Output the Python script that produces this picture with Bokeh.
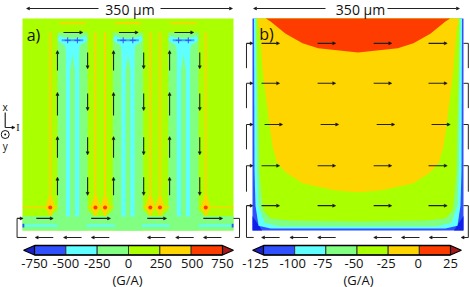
from bokeh.plotting import figure
from bokeh.models import Range1d, Arrow, NormalHead, ColumnDataSource
from bokeh.core.properties import value
from bokeh.embed import file_html
from bokeh.resources import INLINE

# ---------- data ----------
COLORS = ["#3050ff", "#60ffff", "#80ff80", "#aaff00", "#ffd500", "#ff3c00"]
TIP_LOW, TIP_HIGH = "#1820c0", "#a81818"
levels_a = [-750, -500, -250, 0, 250, 500, 750]
levels_b = [-125, -100, -75, -50, -25, 0, 25]
labels_a = ["-750", "-500", "-250", "0", "250", "500", "750"]
labels_b = ["-125", "-100", "-75", "-50", "-25", "0", "25"]
unit_label = "(G/A)"
width_label = "350 µm"

# panel a, micrometres
conductor_centres = [83, 175, 267]
conductor_half = 25
conductor_top = 327
return_strip_top = 24
hot_x = [46, 121, 137, 212, 228, 304]
hot_y = 38
star_dx = [-22, -8, 8, 22, 25, 12, 11, 11, 4, 4, 0, -4, -4, -11, -11, -12, -25]
star_y = [321, 317, 317, 321, 314, 305, 292, 23, 23, 264, 291, 264, 23, 23, 292, 305, 314]
strip_segments = [(0, 58), (106, 153), (198, 244), (292, 350)]

# panel b, half contours, micrometres from the left edge
cyan_x = [2.5, 3.3, 5, 10, 30, 175]
cyan_y = [350, 99, 41, 8, 3.3, 3.3]
green_x = [5, 7.5, 10, 20, 46, 175]
green_y = [350, 99, 41, 13, 6.6, 6.6]
lime_x = [6.6, 11.6, 15, 18, 30, 63, 175]
lime_y = [350, 99, 58, 33, 20, 16.5, 15]
orange_x = [8, 11.6, 18, 30, 33, 41, 55, 83, 138, 175]
orange_y = [350, 330, 253, 160, 140, 112, 96, 78, 66, 63]
red_x = [22, 30, 55, 83, 109, 175]
red_y = [350, 345, 325, 309, 301, 294]

# current arrows, micrometres
a_up_x = [58, 151, 244]
a_down_x = [108, 201, 294]
a_up_rows = [(264, 297), (190, 228), (120, 155), (58, 88)]
a_down_rows = [(294, 267), (226, 198), (154, 125), (88, 58)]
a_strip_x = [(23, 51), (114, 146), (207, 239), (300, 332)]
a_under_x = [(51, 21), (98, 68), (144, 114), (237, 207), (284, 254), (330, 300)]
b_rows = [309, 243, 175, 107, 41]
b_row_shift = [0, 0, 5, 0, 0]
b_cols = [(15, 45), (108, 138), (201, 231), (292, 323)]
b_under_x = [(45, 15), (92, 62), (138, 108), (231, 201), (277, 247), (323, 293)]
b_drop = [41, 41, 41, 43, 0]

# ---------- page geometry ----------
W, H = 470, 287
def xspan(p0, p1, v0, v1):
    k = (v1 - v0) / (p1 - p0)
    return Range1d(v0 - p0 * k, v0 + (W - p0) * k)
def yspan(p0, p1, v0, v1):
    k = (v1 - v0) / (p1 - p0)
    return Range1d(v0 + (H - p0) * k, v0 - p0 * k)

p = figure(width=W, height=H, output_backend="svg", toolbar_location=None,
           x_range=(0, W), y_range=(H, 0), min_border=0,
           x_axis_type=None, y_axis_type=None)
p.grid.visible = False
p.outline_line_color = None
p.background_fill_color = "white"
p.extra_x_ranges = {"a": xspan(22, 233, 0, 350), "b": xspan(252, 463, 0, 350),
                    "ca": xspan(34, 222, -750, 750), "cb": xspan(263, 450, -125, 25)}
p.extra_y_ranges = {"um": yspan(230, 18, 0, 350)}
pa = dict(x_range_name="a", y_range_name="um")
pb = dict(x_range_name="b", y_range_name="um")

# ---------- panel a ----------
p.quad(left=0, right=350, bottom=0, top=350, fill_color=COLORS[3], line_color=None, **pa)
p.quad(left=0, right=350, bottom=0, top=return_strip_top, fill_color=COLORS[2], line_color=None, **pa)
# fillets
fx, fy = [], []
for c in conductor_centres:
    for sgn in (-1, 1):
        e = c + sgn * conductor_half
        fx.append([e, e, e + sgn * 10])
        fy.append([return_strip_top + 10, return_strip_top, return_strip_top])
p.patches(fx, fy, fill_color=COLORS[2], line_color=None, **pa)
for c in conductor_centres:
    p.quad(left=c - conductor_half, right=c + conductor_half, bottom=0, top=conductor_top,
           fill_color=COLORS[2], line_color=None, **pa)
    p.patch([c + d for d in star_dx], star_y, fill_color=COLORS[1], line_color=None, **pa)
    p.line([c - 22, c + 22], [342, 342], line_color=COLORS[4], line_width=1.6, **pa)
    p.line([c - 18, c + 18], [314, 314], line_color="#40a8ff", line_width=2, **pa)
    p.scatter([c - 8, c + 8], [314, 314], marker="cross", size=6, line_color=COLORS[0], line_width=1, **pa)
for x0, x1 in strip_segments:
    p.quad(left=x0, right=x1, bottom=6, top=10, fill_color=COLORS[1], line_color=None, **pa)
p.quad(left=[0, 347], right=[3, 350], bottom=5, top=11, fill_color=COLORS[0], line_color=None, **pa)
# orange edge lines and hot spots
for x in hot_x:
    p.line([x, x], [327, 24], line_color=COLORS[4], line_width=2, **pa)
    p.patch([x - 8, x, x + 8, x], [hot_y, hot_y + 26, hot_y, hot_y - 14], fill_color=COLORS[4], line_color=None, **pa)
p.multi_line([[0, 58], [108, 151], [201, 244], [294, 350]], [[hot_y] * 2] * 4, line_color=COLORS[4], line_width=1.4, **pa)
p.scatter(hot_x, [hot_y] * 6, marker="circle", size=4, fill_color=COLORS[5], line_color=None, **pa)

# ---------- panel b ----------
def mirror(xs, ys):
    return xs + [350 - x for x in reversed(xs)], ys + list(reversed(ys))
p.quad(left=0, right=350, bottom=0, top=350, fill_color=COLORS[0], line_color=None, **pb)
p.patches([[0, 0, 16], [350, 350, 334]], [[24, 0, 0], [24, 0, 0]], fill_color="#1020e8", line_color=None, **pb)
for xs, ys, col in [(cyan_x, cyan_y, COLORS[1]), (green_x, green_y, COLORS[2]),
                    (lime_x, lime_y, COLORS[3]), (orange_x, orange_y, COLORS[4]),
                    (red_x, red_y, COLORS[5])]:
    mx, my = mirror(xs, ys)
    p.patch(mx, my, fill_color=col, line_color=None, **pb)

# ---------- arrows ----------
def arrows(x0, y0, x1, y1, rng, size=3, width=1.1):
    src = ColumnDataSource(dict(x0=x0, y0=y0, x1=x1, y1=y1))
    p.add_layout(Arrow(source=src, x_start="x0", y_start="y0", x_end="x1", y_end="y1",
                       x_range_name=rng, y_range_name="um", line_color="#222222", line_width=width,
                       end=NormalHead(size=size, fill_color="#111111", line_color="#111111", line_width=0.5)))

x0, y0, x1, y1 = [], [], [], []
for xs, rows in ((a_up_x, a_up_rows), (a_down_x, a_down_rows)):
    for x in xs:
        for t, h in rows:
            x0.append(x); y0.append(t); x1.append(x); y1.append(h)
for c in conductor_centres:
    x0.append(c - 15); y0.append(conductor_top); x1.append(c + 17); y1.append(conductor_top)
for t, h in a_strip_x:
    x0.append(t); y0.append(20); x1.append(h); y1.append(20)
for t, h in a_under_x:
    x0.append(t); y0.append(-11.5); x1.append(h); y1.append(-11.5)
x0.append(-9); y0.append(20); x1.append(1); y1.append(20)
arrows(x0, y0, x1, y1, "a")
p.multi_line([[-9, -9, 7], [350, 360, 360, 352]], [[20, -11.5, -11.5], [20, 20, -11.5, -11.5]],
             line_color="#222222", line_width=1, **pa)

x0, y0, x1, y1 = [], [], [], []
for r, s in zip(b_rows, b_row_shift):
    for t, h in b_cols:
        x0.append(t + s); y0.append(r); x1.append(h + s); y1.append(r)
    x0.append(-10); y0.append(r); x1.append(1); y1.append(r)
for t, h in b_under_x:
    x0.append(t); y0.append(-11.5); x1.append(h); y1.append(-11.5)
x0.append(358); y0.append(-11.5); x1.append(346); y1.append(-11.5)
arrows(x0, y0, x1, y1, "b")
p.multi_line([[-10, -10] for _ in b_rows[:-1]] + [[-10, -10, 2]],
             [[r, r - d] for r, d in zip(b_rows[:-1], b_drop[:-1])] + [[b_rows[-1], -11.5, -11.5]],
             line_color="#222222", line_width=1, **pb)
p.multi_line([[350, 358, 358] for _ in b_rows[:-1]] + [[350, 358, 358]],
             [[r, r, r - d] for r, d in zip(b_rows[:-1], b_drop[:-1])] + [[b_rows[-1], b_rows[-1], -11.5]],
             line_color="#222222", line_width=1, **pb)

# ---------- colour bars ----------
FONT = value("Open Sans")
def colorbar(levels, labels, rng, shifts):
    ext = (levels[-1] - levels[0]) * 0.058
    top, bottom, mid = 245, 254.5, 249.75
    p.quad(left=levels[:-1], right=levels[1:], top=top, bottom=bottom, fill_color=COLORS,
           line_color="#333333", line_width=1, x_range_name=rng)
    p.patch([levels[0], levels[0] - ext, levels[0]], [top, mid, bottom], fill_color=TIP_LOW,
            line_color="black", line_width=1.2, x_range_name=rng)
    p.patch([levels[-1], levels[-1] + ext, levels[-1]], [top, mid, bottom], fill_color=TIP_HIGH,
            line_color="black", line_width=1.2, x_range_name=rng)
    p.line([levels[0], levels[-1]], [top, top], line_color="black", line_width=1.4, x_range_name=rng)
    p.line([levels[0], levels[-1]], [bottom, bottom], line_color="black", line_width=1.4, x_range_name=rng)
    p.text(levels, [263] * 7, text=labels, text_font=FONT, text_font_size="13px", text_align="center",
           text_baseline="middle", text_color="#111111", x_offset=shifts, x_range_name=rng)

colorbar(levels_a, labels_a, "ca", [0, 0, 0, 0, 1, 1, 0])
colorbar(levels_b, labels_b, "cb", [-8, -2, -3, -3, -2, -1, 0])

def label(x, y, s, size="13px", font=FONT, **kw):
    p.text([x], [y], text=[s], text_font=font, text_font_size=size, text_align="center",
           text_baseline="middle", text_color="#111111", **kw)

label(127, 279, unit_label)
label(358, 279, unit_label)
label(129.5, 8.5, width_label, "14px")
label(360, 8.5, width_label, "14px")
label(33, 34, "a)", "16px")
label(266, 33, "b)", "16px")
label(4.7, 106, "x", "10px")
label(4.7, 145, "y", "10px")
label(17.5, 126.5, "I", "10px", font=value("Liberation Serif"))

# ---------- width brackets and axis triad (page pixels) ----------
def plain_arrow(xa, ya, xb, yb):
    p.add_layout(Arrow(x_start=xa, y_start=ya, x_end=xb, y_end=yb, line_color="#222222", line_width=1,
                       end=NormalHead(size=3, fill_color="#111111", line_color="#111111", line_width=0.5)))
for a, b in [(98, 26), (160, 232), (325, 253), (387, 459)]:
    plain_arrow(a, 8, b, 8)
p.line([4.7, 4.7], [127, 112], line_color="#111111", line_width=1.1)
plain_arrow(4.7, 127, 14.5, 127)
p.circle(x=[4.7], y=[134], radius=4, fill_color=None, line_color="#111111", line_width=1)
p.scatter([4.7], [134], marker="circle", size=2, fill_color="#111111", line_color=None)

open("out.html", "w").write(file_html(p, INLINE))
